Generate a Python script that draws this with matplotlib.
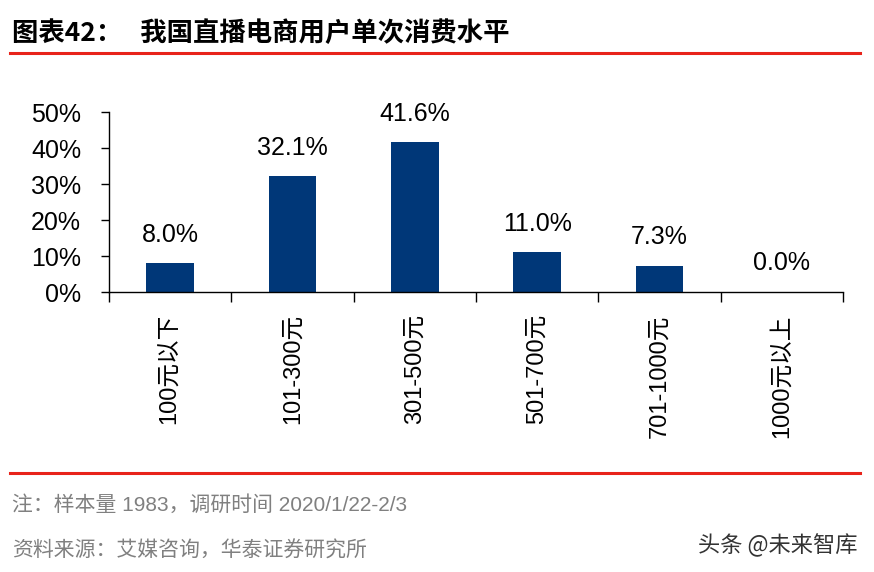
import matplotlib
matplotlib.use('Agg')
import matplotlib.pyplot as plt
from matplotlib.lines import Line2D
from matplotlib.ticker import FuncFormatter

plt.rcParams['font.family'] = ['Liberation Sans', 'Noto Sans CJK SC', 'DejaVu Sans']

categories = ['100元以下', '101-300元', '301-500元', '501-700元', '701-1000元', '1000元以上']
values = [8.0, 32.1, 41.6, 11.0, 7.3, 0.0]
yticks = [0, 10, 20, 30, 40, 50]

bar_color = '#003778'

fig = plt.figure(figsize=(8.74, 5.72), dpi=100)
W, H = 874, 572
ax = fig.add_axes([109 / W, 1 - 292 / H, (843 - 109) / W, (292 - 112) / H])

x = range(len(categories))
ax.bar(x, values, width=0.39, color=bar_color, zorder=2)
for xi, v in zip(x, values):
    ax.text(xi, v + 4.6, '%.1f%%' % v, ha='center', va='bottom', fontsize=18, color='black')

ax.set_xlim(-0.5, len(categories) - 0.5)
ax.set_ylim(0, 50)
ax.set_yticks(yticks)
ax.yaxis.set_major_formatter(FuncFormatter(lambda v, p: '%d%%' % v))
ax.set_xticks([i - 0.5 for i in range(len(categories) + 1)])
ax.set_xticklabels([])
ax.set_xticks(list(x), minor=True)
ax.set_xticklabels(categories, minor=True, rotation=90, fontsize=17, va='top')
ax.tick_params(axis='x', which='minor', length=0, pad=16)
ax.tick_params(axis='x', which='major', length=7, direction='out', width=1)
ax.tick_params(axis='y', labelsize=18, length=6, direction='out', width=1, pad=14)
for s in ['top', 'right']:
    ax.spines[s].set_visible(False)
for s in ['left', 'bottom']:
    ax.spines[s].set_linewidth(1)

# title and rules
fig.text(12 / W, 1 - 33 / H, '图表42：   我国直播电商用户单次消费水平', fontsize=19, fontweight='bold',
         family=['Noto Sans CJK SC'], va='center', ha='left')
fig.add_artist(Line2D([10 / W, 860 / W], [1 - 53 / H, 1 - 53 / H], color='#e8231a', lw=2.2))
fig.add_artist(Line2D([10 / W, 860 / W], [1 - 473 / H, 1 - 473 / H], color='#e8231a', lw=2.2))

fig.text(12 / W, 1 - 505 / H, '注：样本量 1983，调研时间 2020/1/22-2/3', fontsize=15, color='#808080',
         va='center', ha='left')
fig.text(12 / W, 1 - 551 / H, '资料来源：艾媒咨询，华泰证券研究所', fontsize=15, color='#808080',
         va='center', ha='left', family=['Noto Sans CJK SC'])
fig.text(858 / W, 1 - 545 / H, '头条 @未来智库', fontsize=16, color='#333333',
         va='center', ha='right', family=['Noto Sans CJK SC'])

fig.savefig('out.png', dpi=100)
